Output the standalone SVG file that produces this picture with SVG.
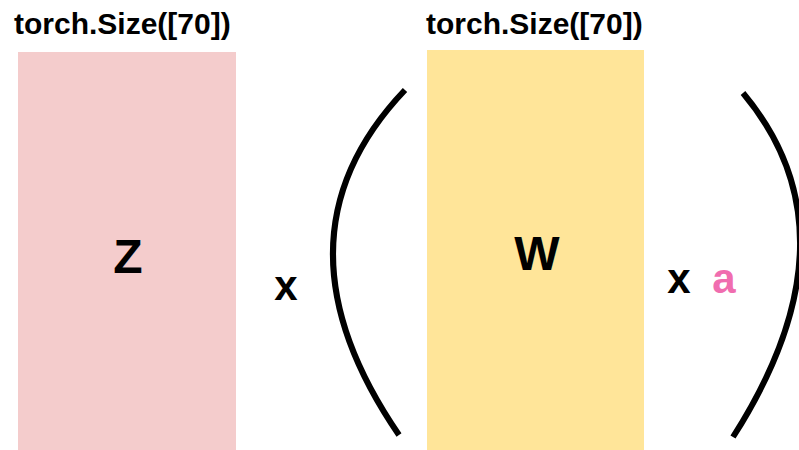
<svg xmlns="http://www.w3.org/2000/svg" width="799" height="450" viewBox="0 0 799 450">
<style>
.t{font-family:"Liberation Sans",Arial,sans-serif;font-weight:bold;fill:#000}
.title{font-size:30px}
.big{font-size:48px;text-anchor:middle}
.op{font-size:42px;text-anchor:middle}
.paren{fill:none;stroke:#000;stroke-width:6}
</style>
<rect width="799" height="450" fill="#fff"/>
<g id="z-node">
<rect x="18" y="52" width="218" height="400" fill="#f4cccc"/>
<text class="t title" x="14" y="34">torch.Size([70])</text>
<text class="t big" x="128" y="273">Z</text>
</g>
<g id="w-node">
<rect x="427" y="50" width="217" height="402" fill="#ffe599"/>
<text class="t title" x="426" y="34">torch.Size([70])</text>
<text class="t big" x="537" y="270">W</text>
</g>
<g id="ops">
<text class="t op" x="286" y="300">x</text>
<text class="t op" x="679" y="293">x</text>
<text class="t op" x="724" y="293" style="fill:#f06daf">a</text>
</g>
<g id="connectors">
<path class="paren" d="M405 90 Q264 238 399 435"/>
<path class="paren" d="M743 93 Q862 235 733 437"/>
</g>
</svg>
